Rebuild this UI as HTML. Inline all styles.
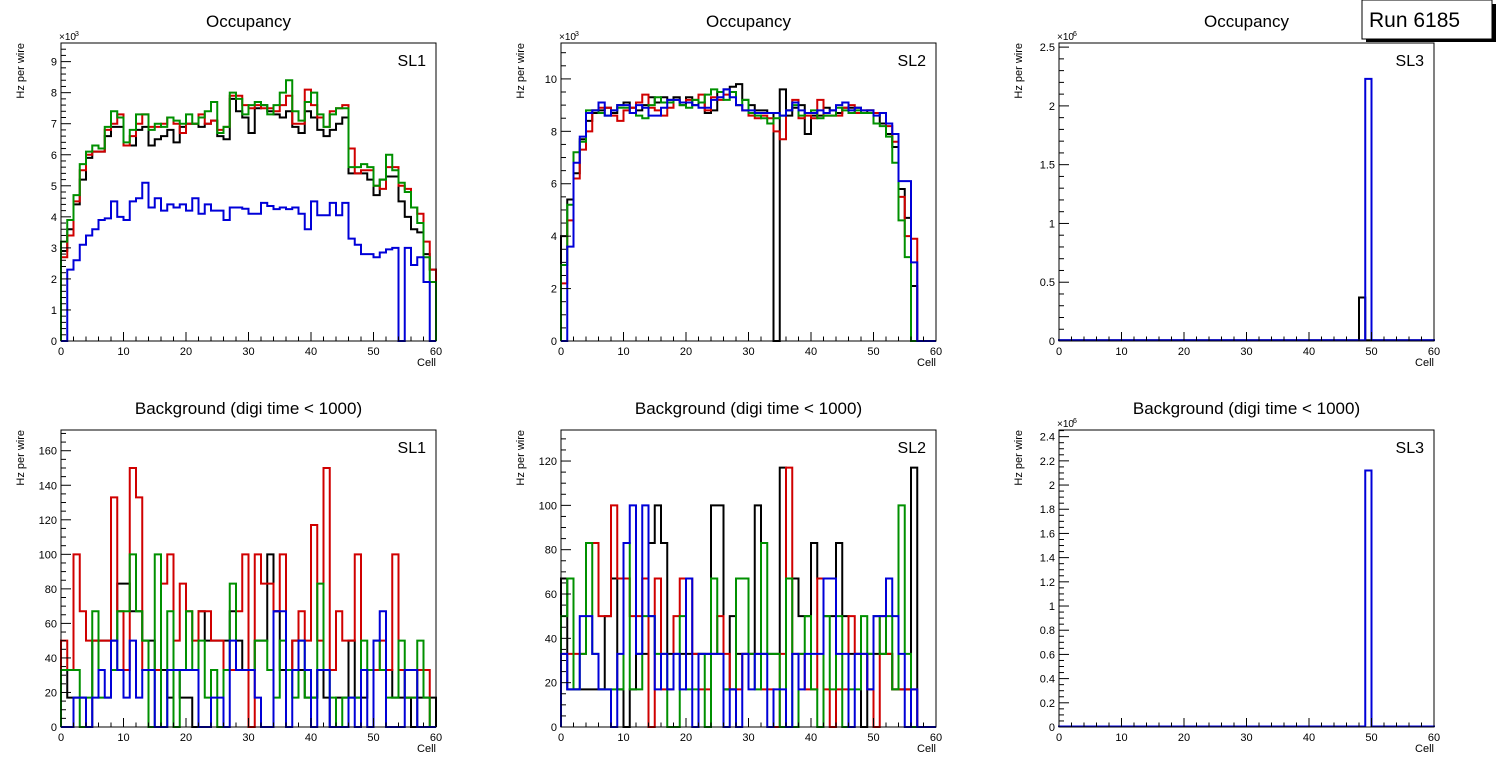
<!DOCTYPE html>
<html><head><meta charset="utf-8"><style>
html,body{margin:0;padding:0;background:#fff;}
svg{display:block;font-family:"Liberation Sans",sans-serif;}
</style></head><body>
<svg id="chart" width="1496" height="772" viewBox="0 0 1496 772" xmlns="http://www.w3.org/2000/svg">
<rect x="0" y="0" width="1496" height="772" fill="#fff"/>
<g>
<rect x="1366" y="4" width="130" height="38" fill="#000"/>
<rect x="1362" y="0" width="130" height="39" fill="#fff" stroke="#000" stroke-width="1"/>
<text x="1369" y="27" font-size="21" fill="#000">Run 6185</text>
</g>
</svg>
<script>
// ---- Panel 1: Occupancy SL1 (x1e3) ----
const cells = 60;
const occSL1Black=[2.9,3.6,4.4,5.2,5.9,6.1,6.1,6.6,6.9,6.9,6.3,6.3,6.8,6.9,6.3,6.5,6.6,6.8,6.4,6.9,7.0,7.0,6.9,7.0,7.1,6.6,6.5,7.8,7.4,7.2,6.7,7.5,7.6,7.4,7.3,7.2,7.4,6.9,6.7,7.4,7.2,6.8,6.6,6.8,7.0,7.2,5.4,5.4,5.4,5.2,4.7,5.2,5.3,5.3,4.5,4.0,3.6,3.5,2.8,2.3];
const occSL1Red=[2.7,3.4,4.5,5.5,6.0,6.1,6.1,6.8,7.0,7.3,6.3,6.6,7.0,7.3,6.9,6.9,7.0,7.2,7.0,6.7,7.0,7.0,7.3,7.0,7.1,6.8,6.9,7.9,7.9,7.6,7.5,7.6,7.5,7.5,7.4,7.6,7.9,7.0,7.0,8.1,7.6,7.2,6.9,7.4,7.5,7.6,6.2,5.4,5.5,5.5,5.0,4.9,5.6,5.6,5.0,4.9,4.3,4.1,3.2,2.3];
const occSL1Green=[3.2,3.9,4.7,5.7,6.1,6.3,6.2,6.9,7.4,7.2,6.4,6.8,7.3,7.3,6.8,7.0,6.9,7.2,7.1,7.0,7.3,7.0,7.2,7.4,7.7,6.7,6.9,8.0,7.8,7.3,7.6,7.7,7.6,7.3,7.6,8.0,8.4,7.4,7.1,7.7,8.0,7.3,6.9,7.3,7.5,7.5,5.6,5.6,5.7,5.6,5.0,5.2,6.0,5.5,5.1,4.8,4.3,3.8,2.7,1.9];
const occSL1Blue=[0,2.3,2.6,3.1,3.4,3.6,3.9,3.95,4.5,4.0,3.9,4.5,4.6,5.1,4.3,4.6,4.2,4.4,4.3,4.4,4.2,4.6,4.1,4.4,4.2,4.2,3.9,4.3,4.3,4.26,4.1,4.1,4.45,4.35,4.25,4.3,4.25,4.3,4.1,3.6,4.5,4.05,4.05,4.45,4.05,4.45,3.3,3.1,2.8,2.8,2.7,2.85,2.95,3.0,0,3.0,2.45,2.7,1.9,0];
// ---- Panel 2: Occupancy SL2 (x1e3) ----
const occSL2Black=[4.0,5.4,6.4,7.7,8.4,8.7,8.8,8.9,8.7,9.0,9.1,8.9,8.8,9.0,9.3,9.1,9.3,9.2,9.3,9.0,9.3,9.0,9.1,8.7,8.8,9.5,9.6,9.7,9.8,9.2,9.0,8.8,8.8,8.7,0,9.6,8.6,8.9,9.0,7.9,8.6,8.6,8.9,8.8,8.7,8.9,8.9,8.9,8.7,8.8,8.7,8.3,7.9,7.4,5.8,4.7,2.1,0,0,0];
const occSL2Red=[2.2,4.6,6.2,7.3,8.0,8.8,8.9,8.9,8.6,8.4,8.8,8.9,9.1,9.4,8.9,8.8,8.6,8.9,9.2,9.1,9.2,9.2,9.4,8.8,9.3,9.2,9.4,9.5,9.0,8.8,8.6,8.5,8.6,8.5,8.0,7.7,8.8,9.2,8.5,8.6,8.5,9.2,8.6,8.6,8.6,8.9,9.0,8.7,8.8,8.8,8.7,8.7,8.2,7.6,5.5,4.0,3.9,0,0,0];
const occSL2Green=[2.9,5.2,7.2,7.6,8.8,8.8,8.7,8.6,8.8,8.9,8.9,8.7,8.6,8.5,9.0,9.3,9.1,9.1,9.2,9.0,8.9,9.2,9.1,9.4,9.6,9.5,9.2,9.5,9.0,9.2,8.7,8.6,8.5,8.3,8.5,8.6,8.8,9.0,8.6,8.7,8.8,8.5,8.6,8.6,8.9,8.8,8.7,8.8,8.7,8.7,8.3,8.2,7.8,6.8,4.6,3.2,0,0,0,0];
const occSL2Blue=[0,3.6,6.8,7.8,8.7,8.8,9.1,8.6,8.8,9.0,9.0,8.7,9.0,8.9,8.6,8.6,8.9,9.2,9.2,9.1,9.1,9.0,8.9,8.9,9.2,9.3,9.6,9.3,9.0,8.8,8.8,8.7,8.7,8.7,8.7,8.6,8.8,9.1,8.8,8.7,8.7,8.8,8.7,8.8,9.0,9.1,8.8,8.9,8.8,8.8,8.6,8.7,8.3,7.9,6.1,6.1,3.0,0,0,0];
// ---- Panel 3: Occupancy SL3 (x1e6) ----
const occSL3Black=[0.006,0.006,0.006,0.006,0.006,0.006,0.006,0.006,0.006,0.006,0.006,0.006,0.006,0.006,0.006,0.006,0.006,0.006,0.006,0.006,0.006,0.006,0.006,0.006,0.006,0.006,0.006,0.006,0.006,0.006,0.006,0.006,0.006,0.006,0.006,0.006,0.006,0.006,0.006,0.006,0.006,0.006,0.006,0.006,0.006,0.006,0.006,0.006,0.37,0.006,0.006,0.006,0.006,0.006,0.006,0.006,0.006,0.006,0.006,0.006];
const occSL3Blue=[0.006,0.006,0.006,0.006,0.006,0.006,0.006,0.006,0.006,0.006,0.006,0.006,0.006,0.006,0.006,0.006,0.006,0.006,0.006,0.006,0.006,0.006,0.006,0.006,0.006,0.006,0.006,0.006,0.006,0.006,0.006,0.006,0.006,0.006,0.006,0.006,0.006,0.006,0.006,0.006,0.006,0.006,0.006,0.006,0.006,0.006,0.006,0.006,0.006,2.23,0.006,0.006,0.006,0.006,0.006,0.006,0.006,0.006,0.006,0.006];
// ---- Panel 4: Background SL1 ----
const bkgSL1Black=[33,17,17,17,0,50,50,50,50,83,83,67,67,50,50,33,33,17,33,17,17,0,67,50,50,50,50,67,50,33,33,50,50,100,67,33,33,50,33,17,17,33,17,0,17,17,50,17,17,33,33,33,33,17,17,17,0,17,17,17];
const bkgSL1Red=[50,33,100,67,50,50,50,50,133,67,33,150,133,33,33,33,83,100,50,83,67,50,67,67,50,50,33,33,67,100,0,100,83,83,67,100,33,50,67,50,117,50,150,33,67,50,50,100,33,33,33,50,33,100,33,17,17,33,33,0];
const bkgSL1Green=[33,33,33,0,17,67,17,17,33,67,67,100,67,50,0,100,0,67,0,33,67,33,50,17,33,0,33,83,33,33,33,50,50,33,17,50,33,17,50,17,17,83,33,17,0,17,17,17,50,33,50,33,17,17,50,17,17,50,17,0];
const bkgSL1Blue=[0,0,17,17,0,17,33,17,50,33,17,50,17,33,33,0,0,33,33,33,33,33,0,0,17,17,0,50,33,33,33,17,0,0,67,67,0,33,50,33,0,33,33,0,0,0,17,0,33,0,50,67,0,0,0,33,33,0,0,0];
// ---- Panel 5: Background SL2 ----
const bkgSL2Black=[67,17,17,17,17,17,17,50,67,17,0,17,33,33,83,100,83,33,33,33,33,33,33,33,100,100,17,50,33,33,33,100,33,33,33,117,67,67,50,50,83,67,50,50,83,50,33,33,0,33,33,33,33,17,17,17,117,0,0,0];
const bkgSL2Red=[33,33,33,33,83,83,50,50,100,67,67,50,50,67,0,67,17,17,50,67,67,33,17,17,33,50,33,17,17,33,33,33,17,17,0,33,117,33,33,17,17,67,17,0,17,17,50,33,33,17,0,50,33,17,17,17,17,0,0,0];
const bkgSL2Green=[50,67,17,33,83,33,17,17,17,17,83,17,17,50,50,33,33,0,0,50,17,17,33,0,67,33,17,17,67,67,33,17,83,33,33,0,67,0,33,50,17,0,50,17,50,0,17,17,50,33,50,33,50,17,100,33,0,0,0,0];
const bkgSL2Blue=[33,17,17,50,50,33,17,17,0,33,83,100,33,100,50,17,33,17,33,17,67,0,33,33,33,33,0,17,0,33,17,33,33,0,17,17,0,33,17,33,33,33,67,67,33,33,0,33,33,17,50,50,67,50,33,0,17,0,0,0];
// ---- Panel 6: Background SL3 (x1e6) ----
const bkgSL3Blue=[0.004,0.004,0.004,0.004,0.004,0.004,0.004,0.004,0.004,0.004,0.004,0.004,0.004,0.004,0.004,0.004,0.004,0.004,0.004,0.004,0.004,0.004,0.004,0.004,0.004,0.004,0.004,0.004,0.004,0.004,0.004,0.004,0.004,0.004,0.004,0.004,0.004,0.004,0.004,0.004,0.004,0.004,0.004,0.004,0.004,0.004,0.004,0.004,0.004,2.12,0.004,0.004,0.004,0.004,0.004,0.004,0.004,0.004,0.004,0.004];
const xTicks=[0,10,20,30,40,50,60];

const NS="http://www.w3.org/2000/svg";
const svg=document.getElementById('chart');
function mk(tag,attrs,parent){const e=document.createElementNS(NS,tag);for(const k in attrs)e.setAttribute(k,attrs[k]);(parent||svg).appendChild(e);return e;}
function fmt(v){return String(Math.round(v*100)/100);}

const panels=[
 {id:'occupancy-sl1',x0:61,x1:436,yt:43,yb:341,ymax:9.6,major:1,minor:0.2,title:'Occupancy',sl:'SL1',mult:'3',series:[[occSL1Black,'#000'],[occSL1Red,'#d00000'],[occSL1Green,'#009000'],[occSL1Blue,'#0000d8']]},
 {id:'occupancy-sl2',x0:561,x1:936,yt:43,yb:341,ymax:11.37,major:2,minor:0.5,title:'Occupancy',sl:'SL2',mult:'3',series:[[occSL2Black,'#000'],[occSL2Red,'#d00000'],[occSL2Green,'#009000'],[occSL2Blue,'#0000d8']]},
 {id:'occupancy-sl3',x0:1059,x1:1434,yt:43,yb:341,ymax:2.535,major:0.5,minor:0.1,title:'Occupancy',sl:'SL3',mult:'6',series:[[occSL3Black,'#000'],[occSL3Blue,'#0000d8']]},
 {id:'background-sl1',x0:61,x1:436,yt:430,yb:727,ymax:172,major:20,minor:5,title:'Background (digi time < 1000)',sl:'SL1',mult:null,series:[[bkgSL1Black,'#000'],[bkgSL1Red,'#d00000'],[bkgSL1Green,'#009000'],[bkgSL1Blue,'#0000d8']]},
 {id:'background-sl2',x0:561,x1:936,yt:430,yb:727,ymax:134,major:20,minor:5,title:'Background (digi time < 1000)',sl:'SL2',mult:null,series:[[bkgSL2Black,'#000'],[bkgSL2Red,'#d00000'],[bkgSL2Green,'#009000'],[bkgSL2Blue,'#0000d8']]},
 {id:'background-sl3',x0:1059,x1:1434,yt:430,yb:727,ymax:2.455,major:0.2,minor:0.05,title:'Background (digi time < 1000)',sl:'SL3',mult:'6',series:[[bkgSL3Blue,'#0000d8']]}
];
const colorNames={'#000':'black','#d00000':'red','#009000':'green','#0000d8':'blue'};

panels.forEach(p=>{
 const g=mk('g',{});
 
 
 const xs=v=>p.x0+(v/cells)*(p.x1-p.x0);
 const ys=v=>p.yb-(v/p.ymax)*(p.yb-p.yt);
 const cx=(p.x0+p.x1)/2;
 const t=mk('text',{x:cx,y:p.yt-16,'font-size':17,'text-anchor':'middle'},g);
 t.textContent=p.title;
 
 
 // series
 p.series.forEach(([arr,col])=>{
  let d='M'+xs(0)+','+ys(0);
  for(let i=0;i<cells;i++){d+=' L'+xs(i)+','+ys(arr[i])+' L'+xs(i+1)+','+ys(arr[i]);}
  d+=' L'+xs(cells)+','+ys(0);
  const path=mk('path',{d:d,fill:'none',stroke:col,'stroke-width':2,'stroke-linejoin':'miter'},g);
  
  
 });
 // frame
 const fr=mk('rect',{x:p.x0,y:p.yt,width:p.x1-p.x0,height:p.yb-p.yt,fill:'none',stroke:'#000','stroke-width':1},g);
 
 
 // x ticks
 const xa=mk('g',{},g);
 
 
 for(let v=0;v<=cells;v+=2){
  const len=(v%10===0)?9:4.5;
  mk('line',{x1:xs(v),x2:xs(v),y1:p.yb,y2:p.yb-len,stroke:'#000','stroke-width':1},xa);
 }
 xTicks.forEach(v=>{
  const l=mk('text',{x:xs(v),y:p.yb+14,'font-size':11,'text-anchor':'middle'},xa);
  l.textContent=v;
  
  
 });
 const xt=mk('text',{x:p.x1,y:p.yb+25,'font-size':11,'text-anchor':'end'},xa);
 xt.textContent='Cell';
 
 
 // y ticks
 const ya=mk('g',{},g);
 
 
 const nMin=Math.floor(p.ymax/p.minor+1e-6);
 const ratio=Math.round(p.major/p.minor);
 for(let k=0;k<=nMin;k++){
  const v=k*p.minor;
  const isMaj=(k%ratio===0);
  mk('line',{x1:p.x0,x2:p.x0+(isMaj?10:5),y1:ys(v),y2:ys(v),stroke:'#000','stroke-width':1},ya);
  if(isMaj){
   const l=mk('text',{x:p.x0-4,y:ys(v)+4,'font-size':11,'text-anchor':'end'},ya);
   l.textContent=fmt(v);
   
   
  }
 }
 const ytl=mk('text',{x:0,y:0,'font-size':11,'text-anchor':'end',transform:'translate('+(p.x0-37)+','+(p.yt)+') rotate(-90)'},ya);
 ytl.textContent='Hz per wire';
 
 
 if(p.mult){
  const m=mk('text',{x:p.x0-2,y:p.yt-3,'font-size':10},ya);
  m.textContent='\u00d710';
  
  
  const s=mk('text',{x:p.x0+14,y:p.yt-7,'font-size':7},ya);
  s.textContent=p.mult;
 }
 const sl=mk('text',{x:p.x1-10,y:p.yt+23,'font-size':16,'text-anchor':'end'},g);
 sl.textContent=p.sl;
 
 
});
</script>
</body></html>
